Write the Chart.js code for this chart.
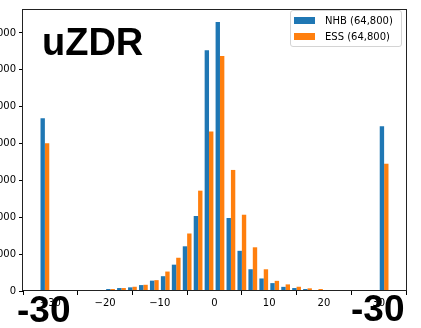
<!DOCTYPE html>
<html>
<head>
<meta charset="utf-8">
<script src="https://cdn.jsdelivr.net/npm/chart.js@4.4.1/dist/chart.umd.min.js"></script>
<style>
  html, body { margin: 0; padding: 0; background: #fff; overflow: hidden; }
  body { width: 421px; height: 328px; position: relative; }
  #wrap { position: absolute; left: -20px; top: 0; width: 441px; height: 328px; }
  .big { position: absolute; font-family: "Liberation Sans", Arial, sans-serif; font-weight: bold; color: #000; line-height: 38px; white-space: nowrap; }
  #legend { position: absolute; left: 290px; top: 10px; width: 110px; height: 35px; border: 1px solid #d4d4d4; border-radius: 3px; background: rgba(255,255,255,0.8); font-family: "DejaVu Sans", sans-serif; font-size: 10px; color: #000; }
  .row { position: absolute; left: 0; height: 12px; line-height: 12px; white-space: nowrap; }
  .patch { position: absolute; left: 3px; top: 2px; width: 21px; height: 7px; }
  .lbl { position: absolute; left: 34px; top: 0; }
</style>
</head>
<body>
<div id="wrap"><canvas id="histChart"></canvas></div>
<div class="big" style="left:42px; top:23px; font-size:38px;">uZDR</div>
<div class="big" style="left:17px; top:291px; font-size:37px;">-30</div>
<div class="big" style="left:351px; top:290px; font-size:37px;">-30</div>
<div id="legend"></div>
<script>
// ===== DATA =====
const binCenters = [-33, -31, -29, -27, -25, -23, -21, -19, -17, -15, -13, -11, -9, -7, -5, -3, -1,
                    1, 3, 5, 7, 9, 11, 13, 15, 17, 19, 21, 23, 25, 27, 29, 31, 33];
const nhbCounts = [0, 9370, 0, 0, 0, 54, 54, 107, 161, 198, 321, 562, 803, 1429, 2425, 4068, 13060,
                   14600, 3960, 2180, 1180, 680, 428, 225, 161, 107, 54, 54, 16, 0, 0, 0, 8940, 0];
const essCounts = [0, 8010, 0, 0, 0, 54, 54, 107, 161, 230, 337, 589, 1055, 1804, 3120, 5444, 8656,
                   12756, 6568, 4138, 2371, 1178, 551, 359, 230, 145, 107, 54, 54, 0, 0, 0, 6905, 0];
const seriesLabels = ['NHB (64,800)', 'ESS (64,800)'];
const seriesColors = ['#1f77b4', '#ff7f0e'];
const xTicks = [-30, -20, -10, 0, 10, 20, 30];
const yTicks = [0, 2000, 4000, 6000, 8000, 10000, 12000, 14000];

// ===== FRAME (all four spines) =====
const framePlugin = {
    id: 'frame',
    afterDraw(chart) {
        const { ctx, chartArea: a } = chart;
        ctx.save();
        ctx.strokeStyle = '#222';
        ctx.lineWidth = 1;
        ctx.strokeRect(Math.round(a.left) - 0.5, Math.round(a.top) + 0.5,
            Math.round(a.right - a.left) + 1, Math.round(a.bottom - a.top) - 1);
        ctx.restore();
    }
};

const tickFont = { family: 'DejaVu Sans', size: 10 };

const chart = new Chart(document.getElementById('histChart').getContext('2d'), {
    type: 'bar',
    data: {
        datasets: [nhbCounts, essCounts].map((counts, i) => ({
            label: seriesLabels[i],
            data: binCenters.map((x, j) => ({ x, y: counts[j] })),
            backgroundColor: seriesColors[i],
            borderWidth: 0,
            categoryPercentage: 0.8,
            barPercentage: 1.0
        }))
    },
    options: {
        responsive: true,
        maintainAspectRatio: false,
        animation: false,
        layout: { padding: { left: 0, right: 15, top: 5, bottom: 0 } },
        plugins: { legend: { display: false }, tooltip: { enabled: false } },
        scales: {
            x: {
                type: 'linear',
                min: -35,
                max: 35,
                offset: false,
                grid: { drawOnChartArea: false, drawTicks: true, tickLength: 4, color: '#000' },
                border: { display: false },
                ticks: {
                    font: tickFont, color: '#000', padding: 2, maxRotation: 0,
                    callback: v => String(v).replace('-', '\u2212')
                },
                afterBuildTicks: s => { s.ticks = xTicks.map(v => ({ value: v })); },
                afterFit: s => { s.height = 37; }
            },
            y: {
                min: 0,
                max: 15300,
                grid: { drawOnChartArea: false, drawTicks: true, tickLength: 4, color: '#000' },
                border: { display: false },
                ticks: { font: tickFont, color: '#000', padding: 3 },
                afterBuildTicks: s => { s.ticks = yTicks.map(v => ({ value: v })); },
                afterFit: s => { s.width = 43; }
            }
        }
    },
    plugins: [framePlugin]
});

// ===== LEGEND =====
const legend = document.getElementById('legend');
chart.data.datasets.forEach((ds, i) => {
    const row = document.createElement('div');
    row.className = 'row';
    row.style.top = (4 + i * 16) + 'px';
    row.innerHTML = `<span class="patch" style="background:${ds.backgroundColor}"></span><span class="lbl">${ds.label}</span>`;
    legend.appendChild(row);
});
</script>
</body>
</html>
